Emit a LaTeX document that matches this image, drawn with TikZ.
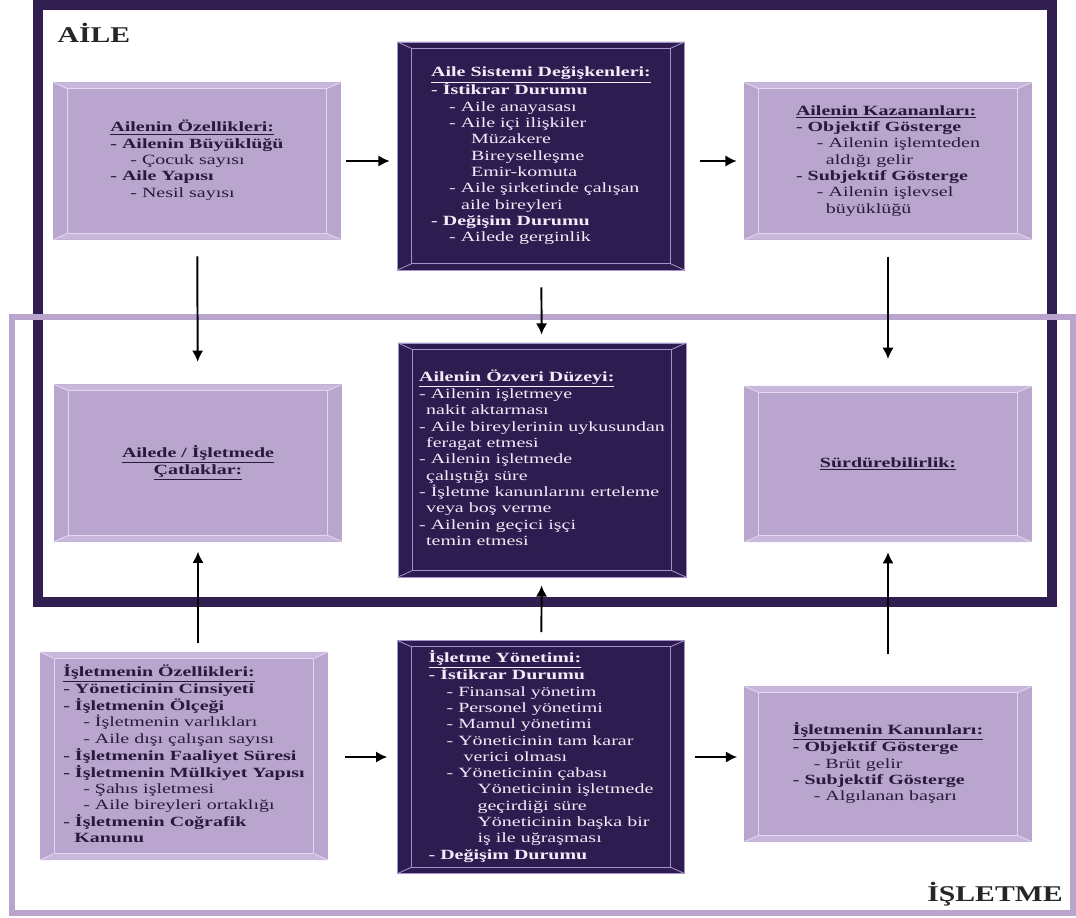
\documentclass[tikz,border=0pt]{standalone}
\usepackage{fontspec}
\setmainfont{Liberation Serif}
\usepackage{graphicx}
\usepackage{tikz}
\usetikzlibrary{arrows.meta, positioning, calc}

\definecolor{ailedark}{RGB}{49,31,82}
\definecolor{isllight}{RGB}{184,164,205}
\definecolor{lface}{RGB}{185,165,206}
\definecolor{ltop}{RGB}{200,184,219}
\definecolor{ledge}{RGB}{226,215,238}
\definecolor{dface}{RGB}{45,28,80}
\definecolor{dedge}{RGB}{165,146,200}
\definecolor{ltext}{RGB}{40,26,58}
\definecolor{dtext}{RGB}{242,236,248}

% bevelled picture-frame look of the boxes
\newcommand{\boxbevel}[2]{%
  \fill[#2] (path picture bounding box.north west) -- ++(10pt,-4.5pt)
    -- ([shift={(-10pt,-4.5pt)}]path picture bounding box.north east)
    -- (path picture bounding box.north east) -- cycle;
  \fill[#2] (path picture bounding box.south west) -- ++(10pt,4.5pt)
    -- ([shift={(-10pt,4.5pt)}]path picture bounding box.south east)
    -- (path picture bounding box.south east) -- cycle;
  \draw[#1, line width=0.7pt]
    ([shift={(10pt,4.5pt)}]path picture bounding box.south west) rectangle
    ([shift={(-10pt,-4.5pt)}]path picture bounding box.north east);
  \draw[#1, line width=0.6pt]
    (path picture bounding box.south west) -- ++(10pt,4.5pt)
    (path picture bounding box.north west) -- ++(10pt,-4.5pt)
    (path picture bounding box.north east) -- ++(-10pt,-4.5pt)
    (path picture bounding box.south east) -- ++(-10pt,4.5pt);
}
% wide (horizontally stretched) text block
\newcommand{\widetext}[2][l]{\scalebox{1.42}[1]{\begin{tabular}{@{}#1@{}}#2\end{tabular}}}

\begin{document}
\begin{tikzpicture}[x=0.025cm, y=-0.025cm,
    box/.style={inner sep=0pt, font=\fontsize{10}{11.6}\selectfont},
    lbox/.style={box, fill=lface, text=ltext, path picture={\boxbevel{ledge}{ltop}}},
    dbox/.style={box, fill=dface, draw=dedge, line width=0.5pt, text=dtext, path picture={\boxbevel{dedge}{dface}}},
    arr/.style={-{Latex[length=8pt,width=8pt]}, line width=1.4pt},
    framelabel/.style={font=\fontsize{16}{18}\selectfont\bfseries, text=black!85}
  ]
  \useasboundingbox (0,0) rectangle (1076,917);

  % Frames
  \draw[ailedark, line width=7pt] (38,5) rectangle (1052,602);
  \draw[isllight, line width=4.3pt] (12,317) rectangle (1073,913);
  \node[framelabel] (ailelbl) at (94,33) {\scalebox{1.32}[1]{AİLE}};
  \node[framelabel] (isllbl) at (995,894) {\scalebox{1.32}[1]{İŞLETME}};

  % Nodes (manual layout to match figure)
  \node[lbox, minimum width=7.175cm, minimum height=3.925cm] (aozel) at (197,161) {\widetext{%
    \textbf{\underline{Ailenin Özellikleri:}}\\
    \textbf{- Ailenin Büyüklüğü}\\
    \hspace*{10pt}- Çocuk sayısı\\
    \textbf{- Aile Yapısı}\\
    \hspace*{10pt}- Nesil sayısı}};
  \node[dbox, minimum width=7.175cm, minimum height=5.7cm] (asistem) at (541,156) {\widetext{%
    \textbf{\underline{Aile Sistemi Değişkenleri:}}\\
    \textbf{- İstikrar Durumu}\\
    \hspace*{9pt}- Aile anayasası\\
    \hspace*{9pt}- Aile içi ilişkiler\\
    \hspace*{20pt}Müzakere\\
    \hspace*{20pt}Bireyselleşme\\
    \hspace*{20pt}Emir-komuta\\
    \hspace*{9pt}- Aile şirketinde çalışan\\
    \hspace*{15pt}aile bireyleri\\
    \textbf{- Değişim Durumu}\\
    \hspace*{9pt}- Ailede gerginlik}};
  \node[lbox, minimum width=7.175cm, minimum height=3.925cm] (akazanc) at (888,161) {\widetext{%
    \textbf{\underline{Ailenin Kazananları:}}\\
    \textbf{- Objektif Gösterge}\\
    \hspace*{10.5pt}- Ailenin işlemteden\\
    \hspace*{15pt}aldığı gelir\\
    \textbf{- Subjektif Gösterge}\\
    \hspace*{10.5pt}- Ailenin işlevsel\\
    \hspace*{15pt}büyüklüğü}};

  \node[lbox, minimum width=7.175cm, minimum height=3.925cm] (catlak) at (198,463) {\widetext[c]{%
    \textbf{\underline{Ailede / İşletmede}}\\
    \textbf{\underline{Çatlaklar:}}}};
  \node[dbox, minimum width=7.2cm, minimum height=5.85cm] (ozveri) at (542,460) {\widetext{%
    \textbf{\underline{Ailenin Özveri Düzeyi:}}\\
    - Ailenin işletmeye\\
    \hspace*{3.5pt}nakit aktarması\\
    - Aile bireylerinin uykusundan\\
    \hspace*{3.5pt}feragat etmesi\\
    - Ailenin işletmede\\
    \hspace*{3.5pt}çalıştığı süre\\
    - İşletme kanunlarını erteleme\\
    \hspace*{3.5pt}veya boş verme\\
    - Ailenin geçici işçi\\
    \hspace*{3.5pt}temin etmesi}};
  \node[lbox, minimum width=7.175cm, minimum height=3.9cm] (surdur) at (888,464) {\widetext{%
    \textbf{\underline{Sürdürebilirlik:}}}};

  \node[lbox, minimum width=7.2cm, minimum height=5.2cm] (iozel) at (184,756) {\widetext{%
    \textbf{\underline{İşletmenin Özellikleri:}}\\
    \textbf{- Yöneticinin Cinsiyeti}\\
    \textbf{- İşletmenin Ölçeği}\\
    \hspace*{10pt}- İşletmenin varlıkları\\
    \hspace*{10pt}- Aile dışı çalışan sayısı\\
    \textbf{- İşletmenin Faaliyet Süresi}\\
    \textbf{- İşletmenin Mülkiyet Yapısı}\\
    \hspace*{10pt}- Şahıs işletmesi\\
    \hspace*{10pt}- Aile bireyleri ortaklığı\\
    \textbf{- İşletmenin Coğrafik}\\
    \hspace*{5.5pt}\textbf{Kanunu}}};
  \node[dbox, minimum width=7.175cm, minimum height=5.825cm] (yonetim) at (541,757) {\widetext{%
    \textbf{\underline{İşletme Yönetimi:}}\\
    \textbf{- İstikrar Durumu}\\
    \hspace*{9pt}- Finansal yönetim\\
    \hspace*{9pt}- Personel yönetimi\\
    \hspace*{9pt}- Mamul yönetimi\\
    \hspace*{9pt}- Yöneticinin tam karar\\
    \hspace*{17.5pt}verici olması\\
    \hspace*{9pt}- Yöneticinin çabası\\
    \hspace*{24.5pt}Yöneticinin işletmede\\
    \hspace*{24.5pt}geçirdiği süre\\
    \hspace*{24.5pt}Yöneticinin başka bir\\
    \hspace*{24.5pt}iş ile uğraşması\\
    \textbf{- Değişim Durumu}}};
  \node[lbox, minimum width=7.175cm, minimum height=3.875cm] (ikanun) at (888,764) {\widetext{%
    \textbf{\underline{İşletmenin Kanunları:}}\\
    \textbf{- Objektif Gösterge}\\
    \hspace*{10.5pt}- Brüt gelir\\
    \textbf{- Subjektif Gösterge}\\
    \hspace*{10.5pt}- Algılanan başarı}};

  % Arrows
  \draw[arr, shorten <=3.5pt, shorten >=5.3pt] (aozel.east) -- (aozel.east -| asistem.west);
  \draw[arr, shorten <=10.6pt, shorten >=5.3pt] (asistem.east |- akazanc.west) -- (akazanc.west);
  \draw[arr, shorten <=11.7pt, shorten >=15.9pt] (aozel) -- (catlak);
  \draw[arr, shorten <=12pt, shorten >=5.7pt] (asistem) -- (ozveri);
  \draw[arr, shorten <=12pt, shorten >=19pt] (akazanc) -- (surdur);

  \draw[arr, shorten <=6.4pt, shorten >=7pt] (catlak.south |- iozel.north) -- (catlak.south);
  \draw[arr, shorten <=5.7pt, shorten >=5.7pt] (yonetim) -- (ozveri);
  \draw[arr, shorten <=22.7pt, shorten >=7pt] (ikanun) -- (surdur);
  \draw[arr, shorten <=12pt, shorten >=7pt] (iozel.east |- yonetim.west) -- (yonetim.west);
  \draw[arr, shorten <=7pt, shorten >=5pt] (yonetim.east) -- (yonetim.east -| ikanun.west);
\end{tikzpicture}
\end{document}
